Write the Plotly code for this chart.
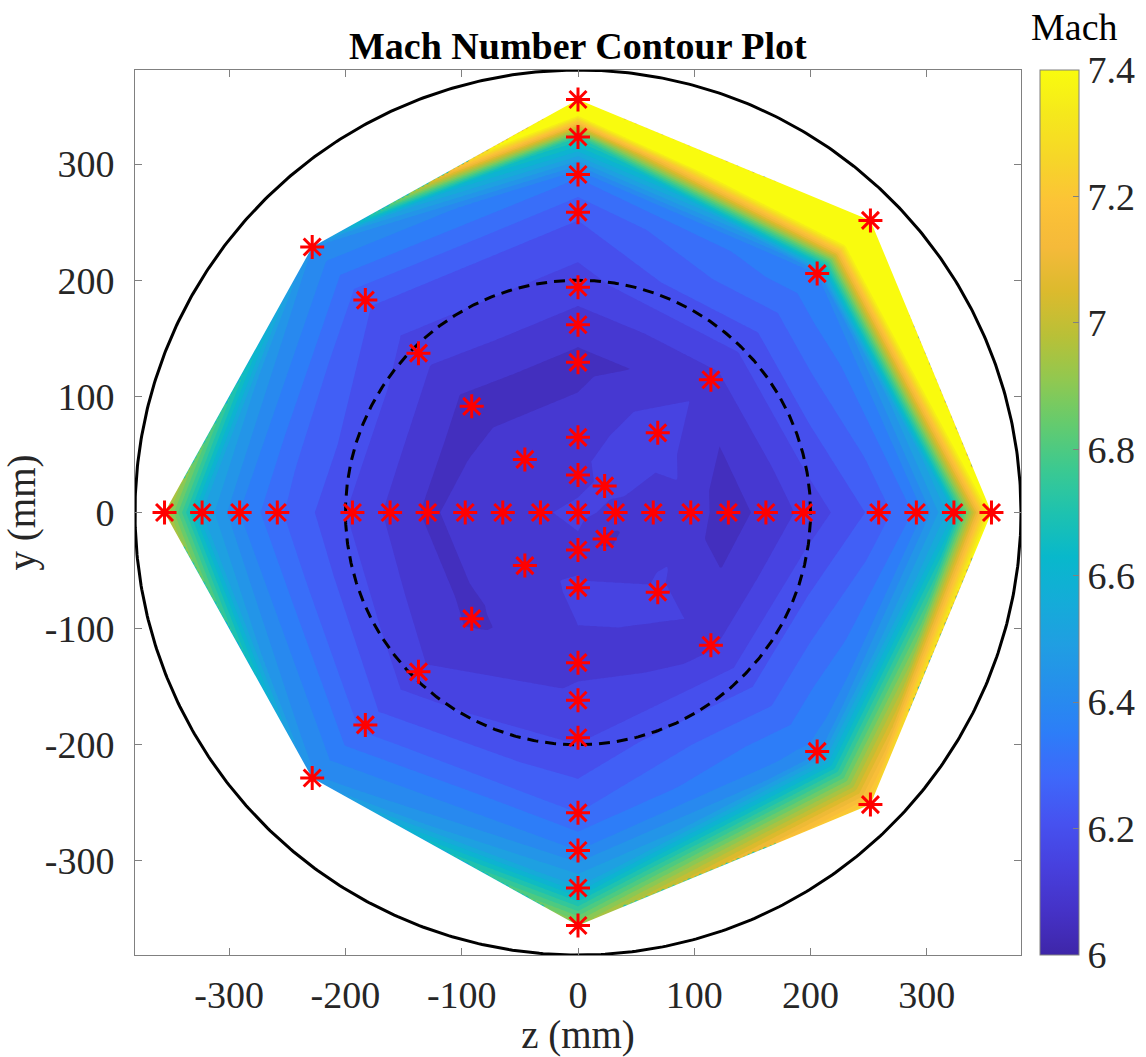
import numpy as np
import plotly.graph_objects as go

# ---------------- data (mm, Mach) ----------------
# horizontal traverse (y = 0)
row_z = [-355.6, -323.3, -291.0, -258.6, -194.0, -161.6, -129.3, -97.0, -64.7, -32.3, 0.0,
         32.3, 64.7, 97.0, 129.3, 161.6, 194.0, 258.6, 291.0, 323.3, 355.6]
row_mach = [7.02, 6.55, 6.40, 6.31, 6.19, 6.14, 6.09, 6.12, 6.13, 6.14, 6.17,
            6.13, 6.12, 6.13, 6.07, 6.12, 6.16, 6.27, 6.36, 6.60, 7.45]

# vertical traverse (z = 0)
col_y = [355.6, 323.3, 291.0, 258.6, 194.0, 161.6, 129.3, 64.7, 32.3,
         -32.3, -64.7, -129.3, -161.6, -194.0, -258.6, -291.0, -323.3, -355.6]
col_mach = [7.90, 6.75, 6.36, 6.26, 6.17, 6.13, 6.08, 6.13, 6.12,
            6.13, 6.16, 6.14, 6.16, 6.19, 6.30, 6.40, 6.56, 6.95]

# diagonal traverses
diag_z = [-228.6, -182.9, -137.2, -91.4, -45.7,
          -45.7, -91.4, -137.2, -182.9, -228.6,
          22.9, 68.6, 114.3, 205.7, 251.5,
          22.9, 68.6, 114.3, 205.7, 251.5]
diag_y = [228.6, 182.9, 137.2, 91.4, 45.7,
          -45.7, -91.4, -137.2, -182.9, -228.6,
          22.9, 68.6, 114.3, 205.7, 251.5,
          -22.9, -68.6, -114.3, -205.7, -251.5]
diag_mach = [6.45, 6.26, 6.17, 6.08, 6.13,
             6.13, 6.09, 6.16, 6.28, 6.46,
             6.17, 6.18, 6.13, 6.40, 8.30,
             6.09, 6.16, 6.14, 6.42, 7.28]

tunnel_radius = 381.0     # solid circle
core_radius = 200.0       # dashed circle
mach_ticks = [6.0, 6.2, 6.4, 6.6, 6.8, 7.0, 7.2, 7.4]
mach_tick_text = ["6", "6.2", "6.4", "6.6", "6.8", "7", "7.2", "7.4"]
axis_ticks = [-300, -200, -100, 0, 100, 200, 300]
axis_tick_text = ["-300", "-200", "-100", "0", "100", "200", "300"]

# ---------------- assemble points ----------------
pz = np.array(row_z + [0.0] * len(col_y) + diag_z, dtype=float)
py = np.array([0.0] * len(row_z) + col_y + diag_y, dtype=float)
pm = np.array(row_mach + col_mach + diag_mach, dtype=float)
n = len(pz)


# ---------------- Delaunay (Bowyer-Watson) ----------------
def delaunay(xs, ys):
    npt = len(xs)
    P = [(float(xs[i]), float(ys[i])) for i in range(npt)]
    M = 1e5
    P += [(-M, -M), (M, -M), (0.0, M)]
    cache = {}

    def circ(t):
        if t in cache:
            return cache[t]
        (ax, ay), (bx, by), (cx, cy) = P[t[0]], P[t[1]], P[t[2]]
        d = 2 * (ax * (by - cy) + bx * (cy - ay) + cx * (ay - by))
        if abs(d) < 1e-9:
            res = (0.0, 0.0, float("inf"))
        else:
            a2, b2, c2 = ax * ax + ay * ay, bx * bx + by * by, cx * cx + cy * cy
            ux = (a2 * (by - cy) + b2 * (cy - ay) + c2 * (ay - by)) / d
            uy = (a2 * (cx - bx) + b2 * (ax - cx) + c2 * (bx - ax)) / d
            res = (ux, uy, (ax - ux) ** 2 + (ay - uy) ** 2)
        cache[t] = res
        return res

    tris = {(npt, npt + 1, npt + 2)}
    for i in range(npt):
        x, y = P[i]
        bad = []
        for t in tris:
            ux, uy, r2 = circ(t)
            if (x - ux) ** 2 + (y - uy) ** 2 < r2 * (1 - 1e-12):
                bad.append(t)
        edges = {}
        for t in bad:
            for e in ((t[0], t[1]), (t[1], t[2]), (t[2], t[0])):
                k = tuple(sorted(e))
                edges[k] = edges.get(k, 0) + 1
        for t in bad:
            tris.discard(t)
        for (a, b), c in edges.items():
            if c == 1:
                tris.add((a, b, i))
    return [t for t in tris if max(t) < npt]


tris = delaunay(pz, py)

# ---------------- linear interpolation on a grid ----------------
gx = np.linspace(-tunnel_radius, tunnel_radius, 401)
GX, GY = np.meshgrid(gx, gx)
Z = np.full(GX.shape, np.nan)
for (a, b, c) in tris:
    x1, y1, x2, y2, x3, y3 = pz[a], py[a], pz[b], py[b], pz[c], py[c]
    det = (y2 - y3) * (x1 - x3) + (x3 - x2) * (y1 - y3)
    if abs(det) < 1e-9:
        continue
    ix = np.where((gx >= min(x1, x2, x3) - 1e-6) & (gx <= max(x1, x2, x3) + 1e-6))[0]
    iy = np.where((gx >= min(y1, y2, y3) - 1e-6) & (gx <= max(y1, y2, y3) + 1e-6))[0]
    if len(ix) == 0 or len(iy) == 0:
        continue
    X = GX[np.ix_(iy, ix)]
    Y = GY[np.ix_(iy, ix)]
    l1 = ((y2 - y3) * (X - x3) + (x3 - x2) * (Y - y3)) / det
    l2 = ((y3 - y1) * (X - x3) + (x1 - x3) * (Y - y3)) / det
    l3 = 1 - l1 - l2
    inside = (l1 >= -1e-9) & (l2 >= -1e-9) & (l3 >= -1e-9)
    vals = l1 * pm[a] + l2 * pm[b] + l3 * pm[c]
    sub = Z[np.ix_(iy, ix)]
    sub[inside] = vals[inside]
    Z[np.ix_(iy, ix)] = sub

# fill outside hull with nearest station value (hidden by mask)
nanmask = np.isnan(Z)
if nanmask.any():
    qx = GX[nanmask][:, None]
    qy = GY[nanmask][:, None]
    d2 = (qx - pz[None, :]) ** 2 + (qy - py[None, :]) ** 2
    Z[nanmask] = pm[np.argmin(d2, axis=1)]
Z = np.round(Z, 4)


# ---------------- convex hull (for white mask) ----------------
def hull(xs, ys):
    pts = sorted(set(zip(xs.tolist(), ys.tolist())))

    def cross(o, a, b):
        return (a[0] - o[0]) * (b[1] - o[1]) - (a[1] - o[1]) * (b[0] - o[0])

    lower, upper = [], []
    for p in pts:
        while len(lower) >= 2 and cross(lower[-2], lower[-1], p) <= 0:
            lower.pop()
        lower.append(p)
    for p in reversed(pts):
        while len(upper) >= 2 and cross(upper[-2], upper[-1], p) <= 0:
            upper.pop()
        upper.append(p)
    return lower[:-1] + upper[:-1]   # CCW, starting at leftmost


hl = hull(pz, py)
hl_cw = [hl[0]] + hl[1:][::-1]
E = 450.0
mx = [-E, -E, E, E, -E, -E] + [p[0] for p in hl_cw] + [hl_cw[0][0], -E]
my = [hl_cw[0][1], -E, -E, E, E, hl_cw[0][1]] + [p[1] for p in hl_cw] + [hl_cw[0][1], hl_cw[0][1]]

# ---------------- parula colour map ----------------
parula_anchor = [
    (0.000, (62, 38, 168)), (0.050, (69, 50, 199)), (0.100, (71, 64, 222)),
    (0.150, (70, 82, 240)), (0.200, (62, 104, 250)), (0.250, (45, 125, 248)),
    (0.300, (38, 142, 236)), (0.350, (32, 158, 226)), (0.400, (20, 172, 216)),
    (0.450, (8, 184, 203)), (0.500, (30, 194, 175)), (0.550, (60, 201, 144)),
    (0.600, (100, 203, 110)), (0.650, (145, 200, 80)), (0.700, (185, 192, 55)),
    (0.750, (220, 186, 45)), (0.800, (245, 186, 58)), (0.850, (252, 195, 55)),
    (0.900, (246, 214, 40)), (0.950, (245, 232, 28)), (1.000, (249, 251, 14)),
]
_at = np.array([a[0] for a in parula_anchor])
_ac = np.array([a[1] for a in parula_anchor], dtype=float)


def parula(u):
    u = float(np.clip(u, 0, 1))
    return "rgb(%d,%d,%d)" % tuple(int(round(np.interp(u, _at, _ac[:, k]))) for k in range(3))


cmin, cmax, step = 6.0, 7.4, 0.05
smooth_scale = [[float(t), parula(t)] for t in np.linspace(0, 1, 41)]
# plotly fills band [L, L+step] with colour at pos=(L+step/2-(cmin-step/2))/(cmax-cmin+step);
# remap so each band gets parula((L-cmin)/(cmax-cmin)) as in MATLAB contourf
span = cmax - cmin + step
fill_scale = []
for pos in np.linspace(0, 1, 59):
    L = cmin - step + span * pos
    fill_scale.append([float(pos), parula((L - cmin) / (cmax - cmin))])

# ---------------- figure ----------------
FONT = "Liberation Serif"
fig = go.Figure()

fig.add_trace(go.Contour(
    x=gx, y=gx, z=Z, autocontour=False,
    contours=dict(start=cmin, end=cmax, size=step, coloring="fill", showlines=False),
    line=dict(width=0), colorscale=fill_scale, showscale=False, hoverinfo="skip"))

fig.add_trace(go.Scatter(x=mx, y=my, mode="lines", fill="toself", fillcolor="white",
                         line=dict(width=0, color="white"), hoverinfo="skip"))

th = np.linspace(0, 2 * np.pi, 721)
fig.add_trace(go.Scatter(x=tunnel_radius * np.cos(th), y=tunnel_radius * np.sin(th),
                         mode="lines", line=dict(color="black", width=3), hoverinfo="skip"))
fig.add_trace(go.Scatter(x=core_radius * np.cos(th), y=core_radius * np.sin(th),
                         mode="lines", line=dict(color="black", width=3, dash="11px,7px"),
                         hoverinfo="skip"))

fig.add_trace(go.Scatter(x=pz, y=py, mode="markers",
                         marker=dict(symbol="asterisk-open", size=20, color="red",
                                     line=dict(color="red", width=3)),
                         cliponaxis=False))

fig.add_trace(go.Scatter(
    x=[0.0], y=[0.0], mode="markers", hoverinfo="skip",
    marker=dict(size=0.1, opacity=0, color=[cmin], cmin=cmin, cmax=cmax,
                colorscale=smooth_scale, showscale=True,
                colorbar=dict(x=(1040 - 135) / 886, xanchor="left", xpad=0,
                              y=0.5, yanchor="middle", len=1, lenmode="fraction", ypad=0,
                              thickness=39, thicknessmode="pixels",
                              outlinewidth=1, outlinecolor="#808080",
                              ticks="inside", ticklen=6, tickcolor="#808080",
                              tickvals=mach_ticks, ticktext=mach_tick_text,
                              tickfont=dict(family=FONT, size=38, color="#262626")))))

axis_common = dict(range=[-tunnel_radius, tunnel_radius], tickvals=axis_ticks,
                   ticktext=axis_tick_text, ticks="inside", ticklen=7,
                   tickcolor="#808080", showline=True, linecolor="#808080",
                   linewidth=1, mirror="ticks", showgrid=False, zeroline=False,
                   tickfont=dict(family=FONT, size=38, color="#262626"))

fig.update_layout(
    width=1146, height=1057,
    margin=dict(l=135, r=125, t=70, b=102, autoexpand=False),
    paper_bgcolor="white", plot_bgcolor="white", showlegend=False,
    font=dict(family=FONT, size=38, color="#262626"),
    xaxis=dict(**axis_common, ticklabelstandoff=6,
               title=dict(text="z (mm)", standoff=4,
                          font=dict(family=FONT, size=39, color="#262626"))),
    yaxis=dict(**axis_common, ticklabelstandoff=12,
               title=dict(text="y (mm)", standoff=8,
                          font=dict(family=FONT, size=39, color="#262626"))),
    annotations=[
        dict(text="<b>Mach Number Contour Plot</b>", x=0.5, y=1 + (70 - 46) / 885,
             xref="paper", yref="paper", xanchor="center", yanchor="middle",
             showarrow=False, font=dict(family=FONT, size=38, color="black")),
        dict(text="Mach", x=(1074 - 135) / 886, y=1 + (70 - 27) / 885,
             xref="paper", yref="paper", xanchor="center", yanchor="middle",
             showarrow=False, font=dict(family=FONT, size=38, color="black")),
    ],
)

fig.write_html("out.html")
